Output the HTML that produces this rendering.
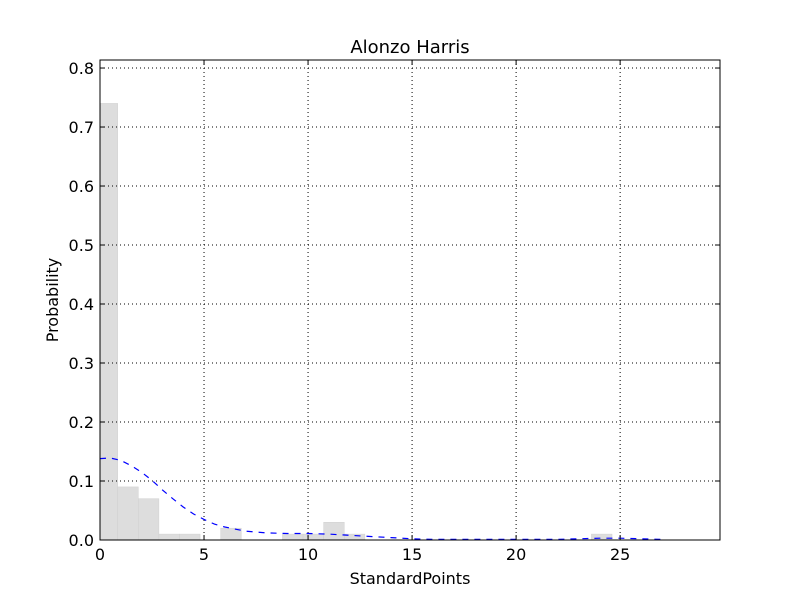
<!DOCTYPE html>
<html><head><meta charset="utf-8"><style>
body{margin:0;background:#fff;}
text{font-family:"DejaVu Sans","Liberation Sans",sans-serif;}
</style></head><body>
<svg id="chart" width="800" height="600" xmlns="http://www.w3.org/2000/svg">
<defs><clipPath id="clip"><rect x="100" y="60" width="620" height="480"/></clipPath></defs>
<rect width="800" height="600" fill="#fff"/>
<g id="bars" clip-path="url(#clip)"></g>
<g id="grid"></g>
<path id="kde" fill="none" stroke="#0000ff" stroke-width="1.2" stroke-dasharray="6,6"/>
<rect x="100" y="60" width="620" height="480" fill="none" stroke="#000" stroke-width="1"/>
<g id="ticks"></g>
<text x="410" y="53" text-anchor="middle" font-size="18">Alonzo Harris</text>
<text x="410" y="584" text-anchor="middle" font-size="16">StandardPoints</text>
<text x="58" y="300" text-anchor="middle" font-size="16" transform="rotate(-90 58 300)">Probability</text>
</svg>
<script>
const binStarts=[-0.14,0.85,1.84,2.83,3.82,4.81,5.80,6.79,7.78,8.77,9.76,10.75,11.74,12.73,23.62];
const binHeights=[0.74,0.09,0.07,0.01,0.01,0,0.02,0,0,0.01,0.01,0.03,0.01,0,0.01];
const binWidth=0.99;
const kdeX=[0,0.5,1,1.5,2,2.5,3,3.5,4,4.5,5,5.5,6,7,8,9,10,11,12,13,14,15,16,17,18,19,20,21,22,23,24,25,26,27];
const kdeY=[0.138,0.139,0.135,0.126,0.115,0.101,0.085,0.07,0.056,0.044,0.035,0.027,0.022,0.015,0.012,0.011,0.011,0.01,0.008,0.006,0.004,0.002,0.001,0.001,0.001,0.001,0.001,0.001,0.001,0.002,0.003,0.003,0.002,0.001];
const xTicks=[0,5,10,15,20,25];
const yTicks=[0,0.1,0.2,0.3,0.4,0.5,0.6,0.7,0.8];
const X0=100,X1=720,Y0=540,Y1=60,XMAX=29.8,YMAX=0.8136;
const sx=v=>X0+v/XMAX*(X1-X0);
const sy=v=>Y0-v/YMAX*(Y0-Y1);
const NS="http://www.w3.org/2000/svg";
const bars=document.getElementById('bars');
binStarts.forEach((b,i)=>{
  if(binHeights[i]<=0)return;
  const r=document.createElementNS(NS,'rect');
  r.setAttribute('x',sx(b));r.setAttribute('width',sx(b+binWidth)-sx(b));
  r.setAttribute('y',sy(binHeights[i]));r.setAttribute('height',Y0-sy(binHeights[i]));
  r.setAttribute('fill','#dddddd');r.setAttribute('stroke','#d0d0d0');r.setAttribute('stroke-width','0.5');
  
  
  bars.appendChild(r);
});
const grid=document.getElementById('grid'),ticks=document.getElementById('ticks');
function line(g,x1,y1,x2,y2,st,dash){const l=document.createElementNS(NS,'line');l.setAttribute('x1',x1);l.setAttribute('y1',y1);l.setAttribute('x2',x2);l.setAttribute('y2',y2);l.setAttribute('stroke',st);if(dash)l.setAttribute('stroke-dasharray',dash);g.appendChild(l);return l;}
function txt(x,y,s,anchor){const t=document.createElementNS(NS,'text');t.setAttribute('x',x);t.setAttribute('y',y);t.setAttribute('font-size','16');t.setAttribute('text-anchor',anchor);t.textContent=s;ticks.appendChild(t);return t;}
xTicks.forEach(v=>{const x=sx(v);
  const g=line(grid,x,Y1,x,Y0,'#000','1,3');
  
  
  line(ticks,x,Y0,x,Y0-5,'#000');line(ticks,x,Y1,x,Y1+5,'#000');
  const t=txt(x,560,String(v),'middle');
  
  
});
yTicks.forEach(v=>{const y=sy(v);
  const g=line(grid,X0,y,X1,y,'#000','1,3');
  
  
  line(ticks,X0,y,X0+5,y,'#000');line(ticks,X1,y,X1-5,y,'#000');
  const t=txt(94,y+6,v.toFixed(1),'end');
  
  
});
let d='';kdeX.forEach((v,i)=>{d+=(i?'L':'M')+sx(v).toFixed(1)+','+sy(kdeY[i]).toFixed(1);});
document.getElementById('kde').setAttribute('d',d);
</script>
</body></html>
